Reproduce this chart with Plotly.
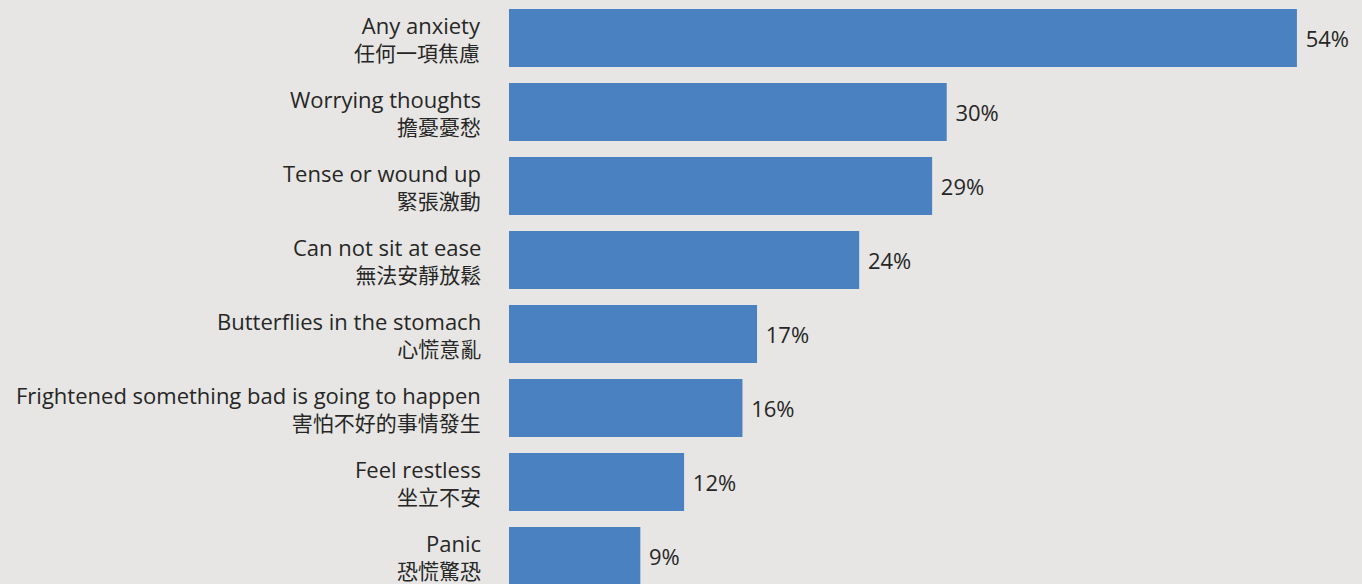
import plotly.graph_objects as go

categories_en = ["Any anxiety", "Worrying thoughts", "Tense or wound up", "Can not sit at ease",
                 "Butterflies in the stomach", "Frightened something bad is going to happen",
                 "Feel restless", "Panic"]
categories_zh = ["任何一項焦慮", "擔憂憂愁", "緊張激動", "無法安靜放鬆",
                 "心慌意亂", "害怕不好的事情發生", "坐立不安", "恐慌驚恐"]
values = [54, 30, 29, 24, 17, 16, 12, 9]

font_family = "Open Sans, Noto Sans CJK TC, sans-serif"
text_color = "#262626"

fig = go.Figure(go.Bar(
    x=values, y=categories_en, orientation="h",
    marker=dict(color="#4a81c0", line=dict(width=0)),
    text=[f"\u00a0{v}%" for v in values], textposition="outside",
    textfont=dict(family=font_family, size=22, color=text_color),
    cliponaxis=False,
    width=0.784,
))

for e, z in zip(categories_en, categories_zh):
    fig.add_annotation(
        xref="paper", x=0, xshift=-26, xanchor="right", yref="y", y=e, yshift=0,
        text=f"<span style='font-size:22px'>{e}</span><br>{z}",
        align="right", showarrow=False,
        font=dict(family=font_family, size=21, color=text_color),
    )

fig.update_layout(
    width=1362, height=584,
    margin=dict(l=509, r=0, t=1, b=0),
    paper_bgcolor="#e7e6e4", plot_bgcolor="rgba(0,0,0,0)",
    showlegend=False,
    xaxis=dict(range=[0, 58.46], visible=False, showgrid=False, zeroline=False),
    yaxis=dict(type="category", categoryorder="array", categoryarray=categories_en,
               range=[7.378, -0.5], showgrid=False, zeroline=False, showline=False,
               ticks="", showticklabels=False),
)

fig.write_html("out.html")
